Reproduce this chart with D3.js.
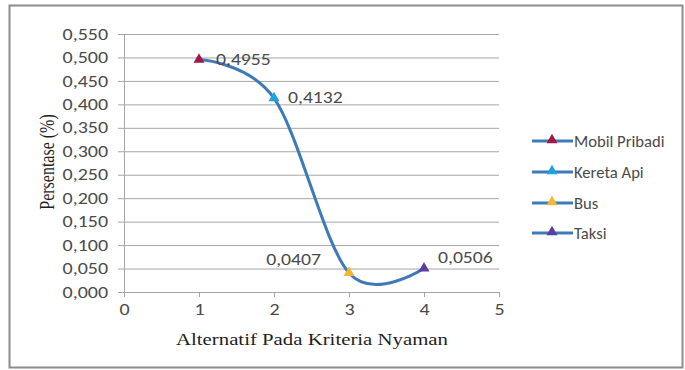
<!DOCTYPE html>
<html>
<head>
<meta charset="utf-8">
<script src="https://cdn.jsdelivr.net/npm/d3@7"></script>
<style>
  html, body { margin: 0; padding: 0; background: #fff; }
  svg { display: block; }
</style>
</head>
<body>
<svg id="chart" width="685" height="370"></svg>
<script>
// Alternatives and their percentage on the comfort criterion
const categories = ["Mobil Pribadi", "Kereta Api", "Bus", "Taksi"];
const xValues = [1, 2, 3, 4];
const values = [0.4955, 0.4132, 0.0407, 0.0506];
const valueLabels = ["0,4955", "0,4132", "0,0407", "0,0506"];
const markerColors = ["#a3164a", "#1fa3dc", "#f2b632", "#5a3ea0"];
const yTicks = [0, 0.05, 0.1, 0.15, 0.2, 0.25, 0.3, 0.35, 0.4, 0.45, 0.5, 0.55];
const xTicks = [0, 1, 2, 3, 4, 5];

const svg = d3.select("#chart");
const sans = "Calibri, Carlito, 'Open Sans', 'Noto Sans', sans-serif";
const serif = "'Liberation Serif', 'DejaVu Serif', serif";
const textGray = "#4a4a4a";

// widen glyphs horizontally by a factor, keeping the anchor
function widen(sel, sx) {
  sel.each(function () {
    const len = this.getComputedTextLength();
    this.setAttribute("textLength", (len * sx).toFixed(1));
    this.setAttribute("lengthAdjust", "spacingAndGlyphs");
  });
}

// outer chart frame
svg.append("rect")
  .attr("x", 9.5).attr("y", 5.5).attr("width", 673).attr("height", 362)
  .attr("fill", "#fff").attr("stroke", "#8c8c8c").attr("stroke-width", 2);

const plot = { left: 124, right: 499, top: 34, bottom: 292 };
const x = d3.scaleLinear().domain([0, 5]).range([plot.left, plot.right]);
const y = d3.scaleLinear().domain([0, 0.55]).range([plot.bottom, plot.top]);

// horizontal gridlines with small outer ticks
const yAxis = d3.axisLeft(y)
  .tickValues(yTicks)
  .tickSize(-(plot.right - plot.left))
  .tickPadding(16)
  .tickFormat(d => d3.format(".3f")(d).replace(".", ","));
const gy = svg.append("g").attr("transform", `translate(${plot.left},0)`).call(yAxis);
gy.select(".domain").remove();
gy.selectAll(".tick line").attr("stroke", "#a6a6a6").attr("stroke-width", 1).attr("x1", -6);
gy.selectAll(".tick text")
  .attr("font-family", sans).attr("font-size", 16).attr("fill", textGray)
  .call(widen, 1.25);

// vertical axis line
svg.append("line")
  .attr("x1", plot.left + 0.5).attr("x2", plot.left + 0.5)
  .attr("y1", plot.top).attr("y2", plot.bottom)
  .attr("stroke", "#a6a6a6");

// x axis
const xAxis = d3.axisBottom(x).tickValues(xTicks).tickSize(5).tickPadding(7)
  .tickFormat(d3.format("d"));
const gx = svg.append("g").attr("transform", `translate(0,${plot.bottom})`).call(xAxis);
gx.select(".domain").attr("stroke", "#a6a6a6");
gx.selectAll(".tick line").attr("stroke", "#a6a6a6");
gx.selectAll(".tick text")
  .attr("font-family", sans).attr("font-size", 16).attr("fill", textGray)
  .call(widen, 1.25);

// axis titles
svg.append("text")
  .attr("x", 312).attr("y", 345)
  .attr("text-anchor", "middle")
  .attr("font-family", serif).attr("font-size", 16).attr("fill", "#1e1e1e")
  .text("Alternatif Pada Kriteria Nyaman")
  .call(widen, 1.3);

svg.append("text")
  .attr("transform", "translate(54,162) scale(1.3,1) rotate(-90)")
  .attr("text-anchor", "middle")
  .attr("font-family", serif).attr("font-size", 16).attr("fill", "#1e1e1e")
  .text("Persentase (%)");

// smoothed connecting line
const pts = xValues.map((xv, i) => [xv, values[i]]);
const line = d3.line().x(d => x(d[0])).y(d => y(d[1])).curve(d3.curveCardinal.tension(0));
svg.append("path")
  .datum(pts)
  .attr("d", line)
  .attr("fill", "none")
  .attr("stroke", "#3f7ab8")
  .attr("stroke-width", 3);

// triangle markers
const tri = d3.symbol().type(d3.symbolTriangle).size(52);
svg.selectAll("path.marker")
  .data(pts)
  .join("path")
  .attr("class", "marker")
  .attr("d", tri)
  .attr("transform", d => `translate(${x(d[0])},${y(d[1])})`)
  .attr("fill", (d, i) => markerColors[i]);

// value labels
const labelOffsets = [[17, 5.5], [14, 5], [-28, -8], [14, -5]];
const labelAnchors = ["start", "start", "end", "start"];
svg.selectAll("text.value")
  .data(pts)
  .join("text")
  .attr("class", "value")
  .attr("x", (d, i) => x(d[0]) + labelOffsets[i][0])
  .attr("y", (d, i) => y(d[1]) + labelOffsets[i][1])
  .attr("text-anchor", (d, i) => labelAnchors[i])
  .attr("font-family", sans).attr("font-size", 16).attr("fill", textGray)
  .text((d, i) => valueLabels[i])
  .call(widen, 1.23);

// legend
const legend = svg.append("g");
const legendY = [141, 172, 203, 233];
categories.forEach((name, i) => {
  const g = legend.append("g").attr("transform", `translate(0,${legendY[i]})`);
  g.append("line").attr("x1", 532).attr("x2", 573).attr("y1", 0).attr("y2", 0)
    .attr("stroke", "#3f7ab8").attr("stroke-width", 3);
  g.append("path").attr("d", tri).attr("transform", "translate(552,-1)")
    .attr("fill", markerColors[i]);
  g.append("text").attr("x", 574).attr("y", 5.5)
    .attr("font-family", sans).attr("font-size", 16).attr("fill", textGray)
    .text(name)
    .call(widen, 1.04);
});
</script>
</body>
</html>
